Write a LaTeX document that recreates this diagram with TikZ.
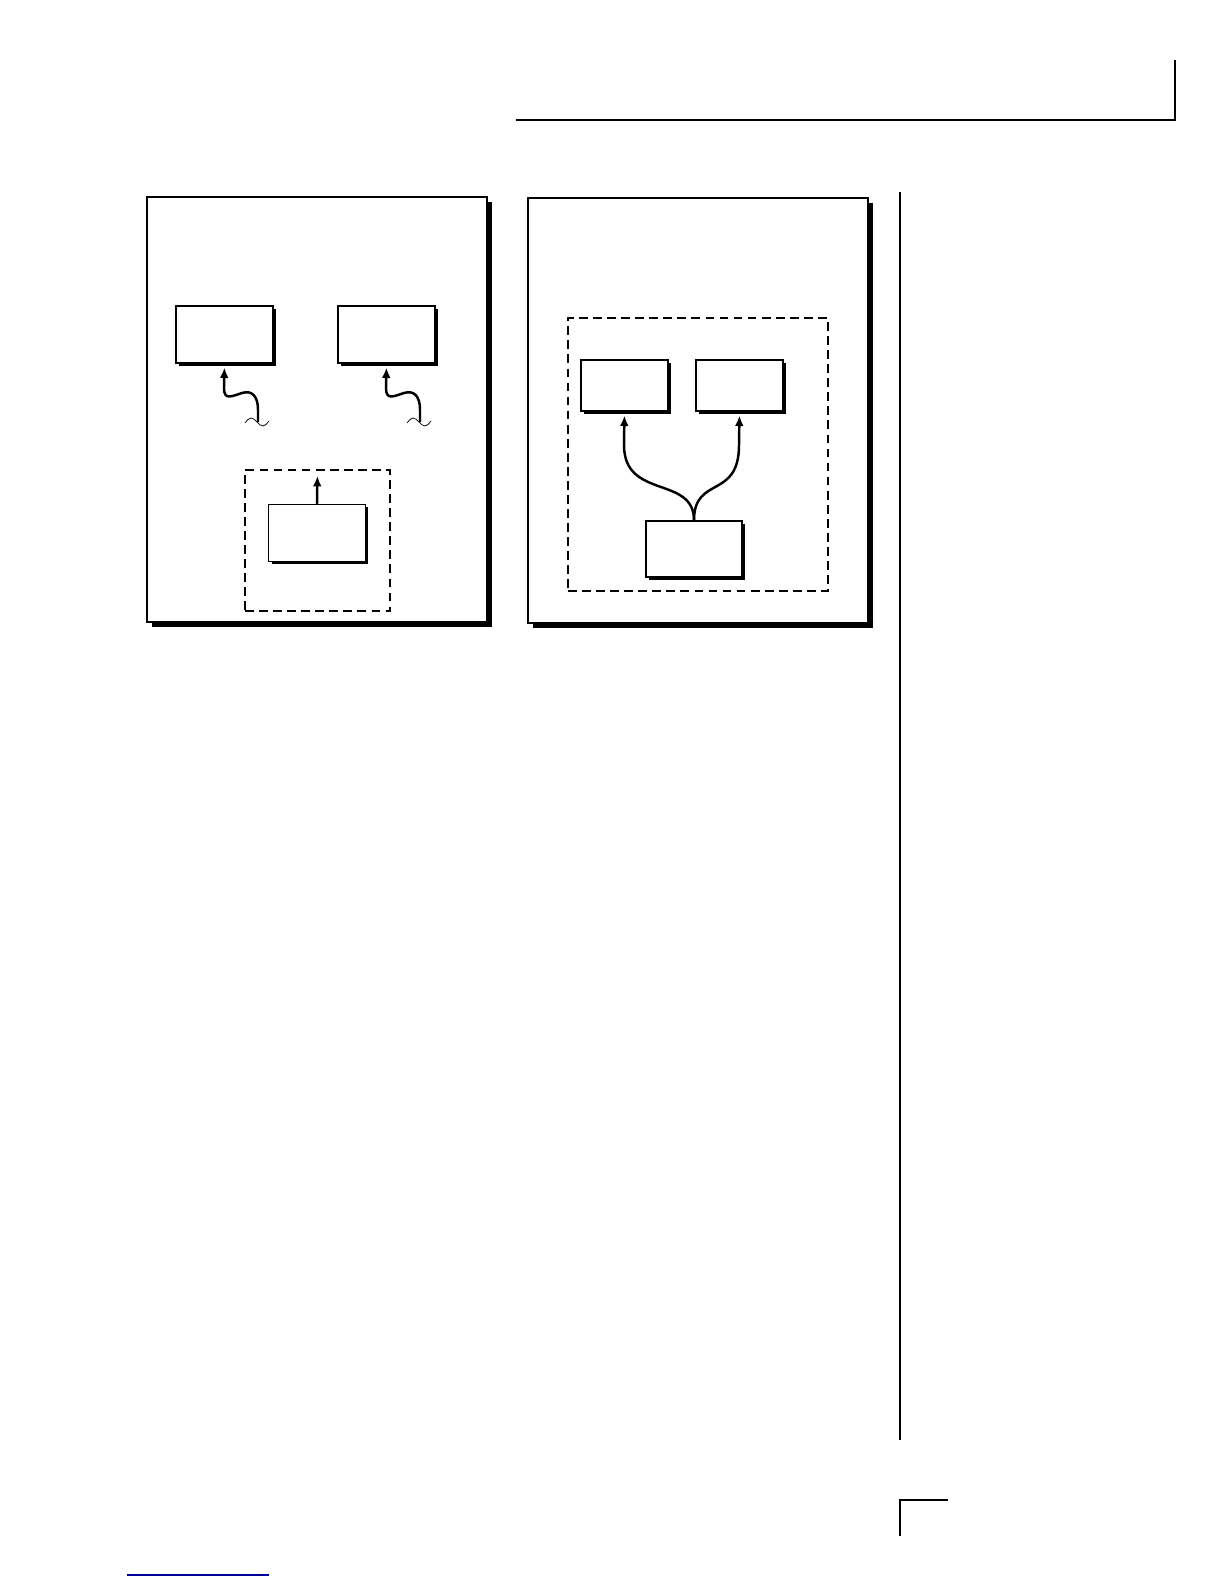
\documentclass[tikz,border=0pt]{standalone}
\usetikzlibrary{arrows.meta,shadows}
\begin{document}
\begin{tikzpicture}[x=0.02cm,y=-0.02cm,
	panel/.style={draw, fill=white, line width=0.8pt, inner sep=0, minimum width=6.8cm, minimum height=8.5cm,
		drop shadow={opacity=1, fill=black, shadow xshift=2.6pt, shadow yshift=-2.6pt}},
	unit/.style={draw, fill=white, line width=0.7pt, inner sep=0, minimum width=1.94cm, minimum height=1.14cm,
		drop shadow={opacity=1, fill=black, shadow xshift=1.7pt, shadow yshift=-1.7pt}},
	group/.style={draw, line width=1.3pt, dash pattern=on 5pt off 3pt, inner sep=0},
	link/.style={line width=1.4pt, -{Latex[length=6pt,width=5pt]}, shorten >=2.2pt},
	tilde/.style={line width=0.4pt}]
	\useasboundingbox (0,0) rectangle (1224,1584);

	% page rules
	\draw[line width=0.8pt] (516,120) -- (1175,120) -- (1175,60);
	\draw[line width=0.6pt] (900,192) -- (900,1440);
	\draw[line width=0.7pt] (948,1500) -- (900,1500) -- (900,1536);
	\draw[blue!60!black, line width=0.8pt] (127,1575) -- (269,1575);

	% left panel
	\node[panel] (left) at (317,409.5) {};
	\node[unit] (ta) at (224.5,334.5) {};
	\node[unit] (tb) at (386.5,334.5) {};
	\node[group, minimum width=2.9cm, minimum height=2.82cm] (gl) at (317.5,540.5) {};
	\node[unit] (tc) at (317,533) {};
	\coordinate (wa) at (258,422);
	\coordinate (wb) at (420,422);
	\draw[link] (wa) -- (258,410) .. controls (258,396) and (252,390) .. (242,393)
		.. controls (232,396) and (224,401) .. (224,388) -- (ta.south);
	\draw[link] (wb) -- (420,410) .. controls (420,396) and (414,390) .. (404,393)
		.. controls (394,396) and (386,401) .. (386,388) -- (tb.south);
	\draw[tilde] (245,423) sin (251,418) cos (257,422) sin (263,426) cos (269,421);
	\draw[tilde] (407,423) sin (413,418) cos (419,422) sin (425,426) cos (431,421);
	\draw[link, shorten >=4pt] (tc.north) -- (gl.north);

	% right panel
	\node[panel] (right) at (698,410.5) {};
	\node[group, minimum width=5.2cm, minimum height=5.46cm] (gr) at (698,454.5) {};
	\node[unit, minimum width=1.74cm, minimum height=1.02cm] (td) at (624.5,385.5) {};
	\node[unit, minimum width=1.74cm, minimum height=1.02cm] (te) at (739.5,385.5) {};
	\node[unit, minimum width=1.92cm, minimum height=1.12cm] (tf) at (694,549) {};
	\draw[link] (tf.north) .. controls (694,475) and (624,500) .. (624,445) -- (td.south);
	\draw[link] (tf.north) .. controls (694,475) and (739,500) .. (739,445) -- (te.south);

\end{tikzpicture}
\end{document}
